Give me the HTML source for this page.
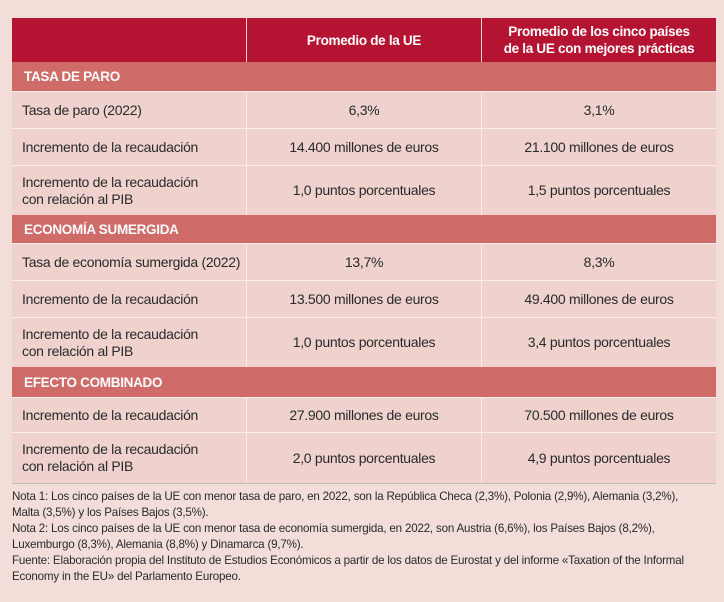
<!DOCTYPE html>
<html><head><meta charset="utf-8"><style>
body{margin:0;width:724px;height:602px;background:#f3ddd9;font-family:"Liberation Sans",sans-serif;position:relative;overflow:hidden;color:#2a2a2a}
.c{position:absolute;box-sizing:border-box;display:flex;align-items:center;font-size:14px;letter-spacing:-0.3px;line-height:17px}
.h{background:#b41432;color:#fff;font-weight:bold;justify-content:center;text-align:center;font-size:13.5px}
.s{background:#cf6b68;color:#fff;font-weight:bold;padding-left:12px;font-size:13.5px}
.b{background:#efd2ce;border-top:1px solid #f8ebe8}
.l{padding-left:10px}
.m{justify-content:center;text-align:center;border-left:1px solid #f8ebe8}
.notes{position:absolute;left:12px;top:489px;font-size:11.6px;line-height:16px;letter-spacing:-0.2px;color:#2a2a2a;width:712px}
</style></head><body>
<div class="c h" style="left:12px;top:18px;width:234px;height:44px"></div>
<div class="c h" style="left:246px;top:18px;width:235px;height:44px;border-left:1px solid #f0d0d0">Promedio de la UE</div>
<div class="c h" style="left:481px;top:18px;width:235px;height:44px;border-left:1px solid #f0d0d0">Promedio de los cinco países<br>de la UE con mejores prácticas</div>
<div id="rows"></div>
<div style="position:absolute;left:12px;top:483px;width:704px;height:1px;background:#bdbdbd"></div>
<div class="notes">Nota 1: Los cinco países de la UE con menor tasa de paro, en 2022, son la República Checa (2,3%), Polonia (2,9%), Alemania (3,2%),<br>Malta (3,5%) y los Países Bajos (3,5%).<br>Nota 2: Los cinco países de la UE con menor tasa de economía sumergida, en 2022, son Austria (6,6%), los Países Bajos (8,2%),<br>Luxemburgo (8,3%), Alemania (8,8%) y Dinamarca (9,7%).<br>Fuente: Elaboración propia del Instituto de Estudios Económicos a partir de los datos de Eurostat y del informe «Taxation of the Informal<br>Economy in the EU» del Parlamento Europeo.</div>
<script>
const rows=[
["s","TASA DE PARO",62,91],
["b","Tasa de paro (2022)",91,128,"6,3%","3,1%"],
["b","Incremento de la recaudación",128,165,"14.400 millones de euros","21.100 millones de euros"],
["b","Incremento de la recaudación<br>con relación al PIB",165,215,"1,0 puntos porcentuales","1,5 puntos porcentuales"],
["s","ECONOMÍA SUMERGIDA",215,243],
["b","Tasa de economía sumergida (2022)",243,280,"13,7%","8,3%"],
["b","Incremento de la recaudación",280,317,"13.500 millones de euros","49.400 millones de euros"],
["b","Incremento de la recaudación<br>con relación al PIB",317,367,"1,0 puntos porcentuales","3,4 puntos porcentuales"],
["s","EFECTO COMBINADO",367,397],
["b","Incremento de la recaudación",397,432,"27.900 millones de euros","70.500 millones de euros"],
["b","Incremento de la recaudación<br>con relación al PIB",432,483,"2,0 puntos porcentuales","4,9 puntos porcentuales"]];
const host=document.getElementById('rows');
rows.forEach((r,i)=>{
 const mk=(cls,x,w,html,name)=>{const d=document.createElement('div');d.className='c '+cls;d.style.cssText=`left:${x}px;top:${r[2]}px;width:${w}px;height:${r[3]-r[2]}px`;d.innerHTML=html;
 
 
 host.appendChild(d);};
 if(r[0]=='s'){mk('s',12,704,r[1],'section-header');}
 else{mk('b l',12,234,r[1],'row-label');mk('b m',246,235,r[4],'ue-average-value');mk('b m',481,235,r[5],'best-five-value');}
});
</script>
</body></html>
